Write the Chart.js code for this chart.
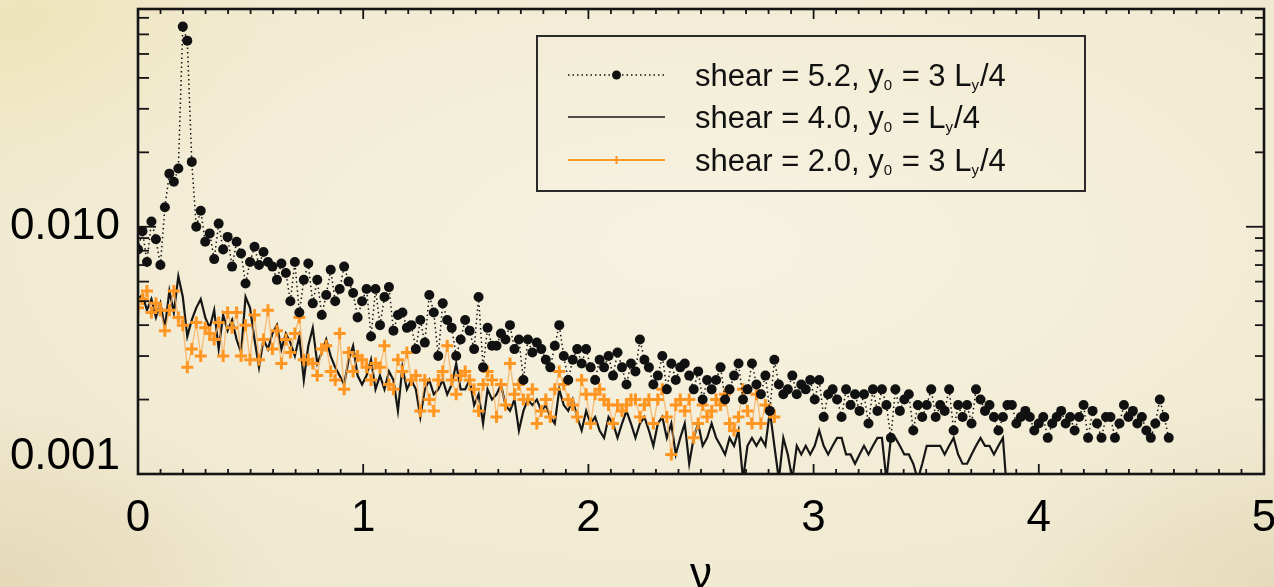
<!DOCTYPE html>
<html>
<head>
<meta charset="utf-8">
<script src="https://cdn.jsdelivr.net/npm/chart.js@4.4.1/dist/chart.umd.min.js"></script>
<style>
html, body { margin: 0; padding: 0; width: 1274px; height: 587px; overflow: hidden; }
body {
  background-color: #F0E9D0;
  background-image:
    radial-gradient(ellipse 65% 65% at 55% 42%, rgba(248,244,227,0.9), rgba(248,244,227,0) 100%),
    radial-gradient(ellipse 22% 32% at 2% 4%, rgba(236,222,160,0.45), rgba(236,222,160,0) 100%),
    radial-gradient(ellipse 22% 32% at 0% 100%, rgba(214,196,156,0.45), rgba(214,196,156,0) 100%),
    radial-gradient(ellipse 22% 32% at 100% 100%, rgba(214,196,156,0.4), rgba(214,196,156,0) 100%);
}
canvas { display: block; }
</style>
</head>
<body>
<canvas id="c" width="1274" height="587"></canvas>
<script>
// ---- data ----
const nuStep = 0.0199;

const shear52 = [
  0.0081, 0.0096, 0.0072, 0.0105, 0.0089, 0.0070, 0.0120, 0.0164, 0.0152, 0.0172,
  0.0645, 0.0566, 0.0183, 0.0100, 0.0116, 0.0087, 0.0094, 0.0074, 0.0103, 0.0081,
  0.0091, 0.0069, 0.0087, 0.0078, 0.0059, 0.0072, 0.0083, 0.0070, 0.0079, 0.0072,
  0.0069, 0.0061, 0.0071, 0.0065, 0.0050, 0.0072, 0.0045, 0.0061, 0.0071, 0.0049,
  0.0061, 0.0044, 0.0053, 0.0067, 0.0050, 0.0056, 0.0069, 0.0060, 0.0054, 0.0043,
  0.0050, 0.0056, 0.0036, 0.0056, 0.0040, 0.0052, 0.0057, 0.0038, 0.0044, 0.0045,
  0.0039, 0.0040, 0.0032, 0.0042, 0.0034, 0.0053, 0.0045, 0.0030, 0.0049, 0.0042,
  0.0039, 0.0030, 0.0035, 0.0042, 0.0038, 0.0032, 0.0052, 0.0027, 0.0039, 0.0033,
  0.0033, 0.0037, 0.0035, 0.0040, 0.0032, 0.0035, 0.0024, 0.0035, 0.0031, 0.0034,
  0.0032, 0.0029, 0.0027, 0.0033, 0.0040, 0.0030, 0.0024, 0.0029, 0.0032, 0.0028,
  0.0032, 0.0027, 0.0024, 0.0029, 0.0027, 0.0030, 0.0025, 0.0031, 0.0027, 0.0023,
  0.0028, 0.0026, 0.0035, 0.0029, 0.0027, 0.0023, 0.0025, 0.0030, 0.0022, 0.0028,
  0.0024, 0.0027, 0.0028, 0.0025, 0.0022, 0.0026, 0.0020, 0.0024, 0.0022, 0.0024,
  0.0027, 0.0020, 0.0022, 0.0025, 0.0028, 0.0020, 0.0022, 0.0028, 0.0023, 0.0021,
  0.0025, 0.0018, 0.0029, 0.0023, 0.0021, 0.0022, 0.0025, 0.0021, 0.0023, 0.0022,
  0.0024, 0.0020, 0.0024, 0.0017, 0.0021, 0.0022, 0.0020, 0.0017, 0.0022, 0.0019,
  0.0021, 0.0018, 0.0021, 0.0016, 0.0022, 0.0018, 0.0022, 0.0019, 0.0014, 0.0022,
  0.0018, 0.0020, 0.0021, 0.0015, 0.0019, 0.0017, 0.0019, 0.0022, 0.0017, 0.0019,
  0.0018, 0.0022, 0.0015, 0.0019, 0.0017, 0.0019, 0.0016, 0.0022, 0.0020, 0.0018,
  0.0019, 0.0017, 0.0015, 0.0017, 0.0019, 0.0019, 0.0016, 0.0017, 0.0018, 0.0017,
  0.0015, 0.0016, 0.0017, 0.0014, 0.0016, 0.0017, 0.0018, 0.0016, 0.0017, 0.0015,
  0.0017, 0.0019, 0.0014, 0.0018, 0.0016, 0.0014, 0.0017, 0.0017, 0.0014, 0.0016,
  0.0019, 0.0017, 0.0018, 0.0016, 0.0017, 0.0015, 0.0014, 0.0016, 0.0020, 0.0017, 0.0014
];

const shear40 = [
  0.0051, 0.0053, 0.0046, 0.0051, 0.0043, 0.0049, 0.0039, 0.0055, 0.0045, 0.0063,
  0.0052, 0.0036, 0.0042, 0.0047, 0.0051, 0.0043, 0.0039, 0.0046, 0.0032, 0.0044,
  0.0038, 0.0042, 0.0035, 0.0031, 0.0052, 0.0047, 0.0035, 0.0027, 0.0035, 0.0032,
  0.0037, 0.0040, 0.0032, 0.0037, 0.0034, 0.0030, 0.0036, 0.0024, 0.0033, 0.0039,
  0.0028, 0.0031, 0.0035, 0.0030, 0.0027, 0.0025, 0.0023, 0.0029, 0.0033, 0.0025,
  0.0023, 0.0025, 0.0029, 0.0022, 0.0025, 0.0022, 0.0026, 0.0024, 0.0018, 0.0027,
  0.0022, 0.0024, 0.0022, 0.0017, 0.0022, 0.0024, 0.0021, 0.0022, 0.0024, 0.0021,
  0.0023, 0.0028, 0.0022, 0.0022, 0.0024, 0.0019, 0.0021, 0.0016, 0.0022, 0.0020,
  0.0021, 0.0023, 0.0019, 0.0018, 0.0020, 0.0015, 0.0018, 0.0020, 0.0019, 0.0020,
  0.0018, 0.0019, 0.0017, 0.0016, 0.0022, 0.0019, 0.0018, 0.0020, 0.0017, 0.0015,
  0.0018, 0.0016, 0.0017, 0.0015, 0.0014, 0.0017, 0.0016, 0.0014, 0.0016, 0.0018,
  0.0016, 0.0014, 0.0016, 0.0017, 0.0015, 0.0013, 0.0016, 0.0017, 0.0014, 0.0016,
  0.0012, 0.0014, 0.0016, 0.0011, 0.0014, 0.0016, 0.0013, 0.0014, 0.0016, 0.0014,
  0.0013, 0.0012, 0.0014, 0.0013, 0.0015, 0.00095, 0.0013, 0.0014, 0.0013, 0.0014,
  0.0013, 0.0018, 0.0013, 0.00095, 0.0014, 0.0012, 0.00095, 0.0013, 0.0012, 0.0013,
  0.0012, 0.0013, 0.0015, 0.0013, 0.0012, 0.0013, 0.0014, 0.0014, 0.0012, 0.0012,
  0.0011, 0.0012, 0.0013, 0.0012, 0.0013, 0.0014, 0.0014, 0.00095, 0.0014, 0.0014,
  0.0013, 0.0012, 0.0012, 0.0011, 0.00095, 0.0011, 0.0013, 0.0013, 0.0013, 0.0013,
  0.0012, 0.0013, 0.0014, 0.0012, 0.0011, 0.0011, 0.0012, 0.0013, 0.0014, 0.0013,
  0.0013, 0.0012, 0.0013, 0.0014, 0.0008
];

const shear20 = [
  0.0047, 0.0051, 0.0055, 0.0045, 0.0049, 0.0046, 0.0038, 0.0046, 0.0055, 0.0043,
  0.0040, 0.0027, 0.0032, 0.0041, 0.0030, 0.0039, 0.0037, 0.0035, 0.0041, 0.0030,
  0.0045, 0.0039, 0.0045, 0.0030, 0.0040, 0.0029, 0.0044, 0.0029, 0.0035, 0.0046,
  0.0032, 0.0038, 0.0028, 0.0035, 0.0031, 0.0037, 0.0043, 0.0029, 0.0029, 0.0028,
  0.0025, 0.0032, 0.0033, 0.0026, 0.0024, 0.0037, 0.0022, 0.0031, 0.0026, 0.0030,
  0.0029, 0.0027, 0.0024, 0.0028, 0.0027, 0.0033, 0.0023, 0.0022, 0.0029, 0.0026,
  0.0031, 0.0024, 0.0025, 0.0018, 0.0024, 0.0020, 0.0018, 0.0024, 0.0026, 0.0033,
  0.0024, 0.0021, 0.0025, 0.0026, 0.0024, 0.0022, 0.0018, 0.0023, 0.0026, 0.0024,
  0.0017, 0.0023, 0.0019, 0.0028, 0.0021, 0.0023, 0.0020, 0.0020, 0.0022, 0.0016,
  0.0018, 0.0020, 0.0017, 0.0022, 0.0026, 0.0023, 0.0020, 0.0019, 0.0017, 0.0024,
  0.0021, 0.0016, 0.0021, 0.0022, 0.0020, 0.0019, 0.0016, 0.0019, 0.0018, 0.0019,
  0.0020, 0.0020, 0.0017, 0.0019, 0.0020, 0.0016, 0.0020, 0.0022, 0.0017, 0.0012,
  0.0019, 0.0020, 0.0018, 0.0020, 0.0014, 0.0016, 0.0019, 0.0017, 0.0018, 0.0020,
  0.0019, 0.0021, 0.0016, 0.0015, 0.0017, 0.0022, 0.0018, 0.0016, 0.0021, 0.0016,
  0.0019, 0.0018, 0.0017
];

const seriesLabels = [
  'shear = 5.2, y_0 = 3 L_y/4',
  'shear = 4.0, y_0 = L_y/4',
  'shear = 2.0, y_0 = 3 L_y/4'
];
const xTickVals = [0, 1, 2, 3, 4, 5];
const xTickLabels = ['0', '1', '2', '3', '4', '5'];
const yTickVals = [0.001, 0.01];
const yTickLabels = ['0.001', '0.010'];
const xTitle = 'ν';

// ---- helpers ----
const FAMILY = "'Liberation Sans', Arial, Helvetica, sans-serif";
function toPoints(arr) { return arr.map((v, i) => ({ x: i * nuStep, y: v })); }

function drawRich(ctx, str, x, y, size) {
  const parts = str.split(/_(.)/);
  parts.forEach((p, idx) => {
    if (!p) return;
    const sub = idx % 2 === 1;
    ctx.font = (sub ? Math.round(size * 0.48) : size) + 'px ' + FAMILY;
    ctx.fillText(p, x, sub ? y + 4 : y);
    x += ctx.measureText(p).width + (sub ? 1 : 0);
  });
}

const framePlugin = {
  id: 'frame',
  afterDatasetsDraw(chart) {
    const { ctx, chartArea: a, scales: { x, y } } = chart;
    ctx.save();
    ctx.strokeStyle = '#151515';
    ctx.lineCap = 'butt';
    const seg = (x1, y1, x2, y2) => { ctx.beginPath(); ctx.moveTo(x1, y1); ctx.lineTo(x2, y2); ctx.stroke(); };
    ctx.lineWidth = 1.8;
    for (let k = 1; k < 50; k++) {
      if (k % 10 === 0) continue;
      const px = x.getPixelForValue(k / 10);
      seg(px, a.bottom, px, a.bottom - 5);
      seg(px, a.top, px, a.top + 5);
    }
    xTickVals.forEach(v => {
      const px = x.getPixelForValue(v);
      seg(px, a.bottom, px, a.bottom - 10);
      seg(px, a.top, px, a.top + 10);
    });
    [0.001, 0.01].forEach(d => {
      for (let m = 2; m <= 9; m++) {
        const v = m * d;
        if (v >= y.max) continue;
        const py = y.getPixelForValue(v);
        seg(a.left, py, a.left + 11, py);
        seg(a.right, py, a.right - 9, py);
      }
    });
    yTickVals.forEach(v => {
      const py = y.getPixelForValue(v);
      seg(a.left, py, a.left + 18, py);
      seg(a.right, py, a.right - 18, py);
    });
    ctx.lineWidth = 2.6;
    ctx.strokeRect(a.left, a.top, a.right - a.left, a.bottom - a.top);
    ctx.restore();
  }
};

const legendPlugin = {
  id: 'boxLegend',
  afterDraw(chart) {
    const { ctx, chartArea: a } = chart;
    const bx = a.left + 399, by = a.top + 27, bw = 548, bh = 155;
    ctx.save();
    ctx.strokeStyle = '#2a2a2a';
    ctx.lineWidth = 2;
    ctx.strokeRect(bx, by, bw, bh);
    const rowY = [39, 81, 124];
    chart.data.datasets.forEach((ds, i) => {
      const cy = by + rowY[i];
      const x1 = bx + 31, x2 = bx + 128;
      ctx.save();
      ctx.strokeStyle = i === 2 ? '#FF9A2A' : ds.borderColor;
      ctx.lineWidth = i === 2 ? 2 : 1.5;
      ctx.setLineDash(ds.borderDash || []);
      ctx.beginPath(); ctx.moveTo(x1, cy); ctx.lineTo(x2, cy); ctx.stroke();
      ctx.setLineDash([]);
      if (ds.pointRadius > 0) {
        ctx.fillStyle = ds.pointBackgroundColor || ds.pointBorderColor;
        ctx.strokeStyle = ds.pointBorderColor || ds.pointBackgroundColor;
        Chart.helpers.drawPoint(ctx, {
          pointStyle: ds.pointStyle, rotation: 0,
          radius: i === 2 ? 4 : 4.5,
          borderWidth: i === 2 ? 2 : (ds.pointBorderWidth || 0)
        }, (x1 + x2) / 2, cy);
      }
      ctx.restore();
      ctx.fillStyle = '#111';
      ctx.textBaseline = 'alphabetic';
      ctx.textAlign = 'left';
      drawRich(ctx, ds.label, bx + 158, cy + 11, 31);
    });
    ctx.restore();
  }
};

new Chart(document.getElementById('c'), {
  type: 'line',
  data: {
    datasets: [
      {
        label: seriesLabels[0],
        data: toPoints(shear52),
        borderColor: '#111111',
        borderWidth: 1.5,
        borderDash: [1.5, 3],
        pointStyle: 'circle',
        pointRadius: 5,
        pointBackgroundColor: '#111111',
        pointBorderColor: '#111111',
        pointBorderWidth: 0,
        order: 0
      },
      {
        label: seriesLabels[1],
        data: toPoints(shear40),
        borderColor: '#161616',
        borderWidth: 2.2,
        pointRadius: 0,
        order: 2
      },
      {
        label: seriesLabels[2],
        data: toPoints(shear20),
        borderColor: 'rgba(248,176,96,0.8)',
        borderWidth: 1.4,
        pointStyle: 'cross',
        pointRadius: 6,
        pointBorderColor: '#FF9622',
        pointBackgroundColor: '#FF9622',
        pointBorderWidth: 3,
        order: 1
      }
    ]
  },
  options: {
    responsive: false,
    devicePixelRatio: 1,
    animation: false,
    layout: { padding: { left: 10, top: 9, right: 10, bottom: 0 } },
    plugins: { legend: { display: false }, tooltip: { enabled: false } },
    elements: { line: { tension: 0 } },
    scales: {
      x: {
        type: 'linear',
        min: 0, max: 5,
        afterBuildTicks: s => { s.ticks = xTickVals.map(v => ({ value: v })); },
        afterFit: s => { s.height = 113; s.paddingLeft = 0; s.paddingRight = 0; },
        ticks: {
          callback: (v, i) => xTickLabels[i],
          font: { family: FAMILY, size: 44, lineHeight: 1.2 },
          color: '#000',
          padding: 18,
          maxRotation: 0,
          autoSkip: false
        },
        grid: { display: false, drawTicks: false },
        border: { display: false },
        title: {
          display: true,
          text: xTitle,
          color: '#000',
          font: { family: FAMILY, size: 44, lineHeight: 0.5 },
          padding: { top: 0, bottom: 0 }
        }
      },
      y: {
        type: 'logarithmic',
        min: 0.001, max: 0.076,
        afterBuildTicks: s => { s.ticks = yTickVals.map(v => ({ value: v })); },
        afterFit: s => { s.width = 128; s.paddingTop = 0; s.paddingBottom = 0; },
        ticks: {
          callback: (v, i) => (i === 0 ? [yTickLabels[0], '', ''] : yTickLabels[i]),
          font: { family: FAMILY, size: 44, lineHeight: 0.4 },
          color: '#000',
          padding: 18,
          autoSkip: false
        },
        grid: { display: false, drawTicks: false },
        border: { display: false }
      }
    }
  },
  plugins: [framePlugin, legendPlugin]
});
</script>
</body>
</html>
